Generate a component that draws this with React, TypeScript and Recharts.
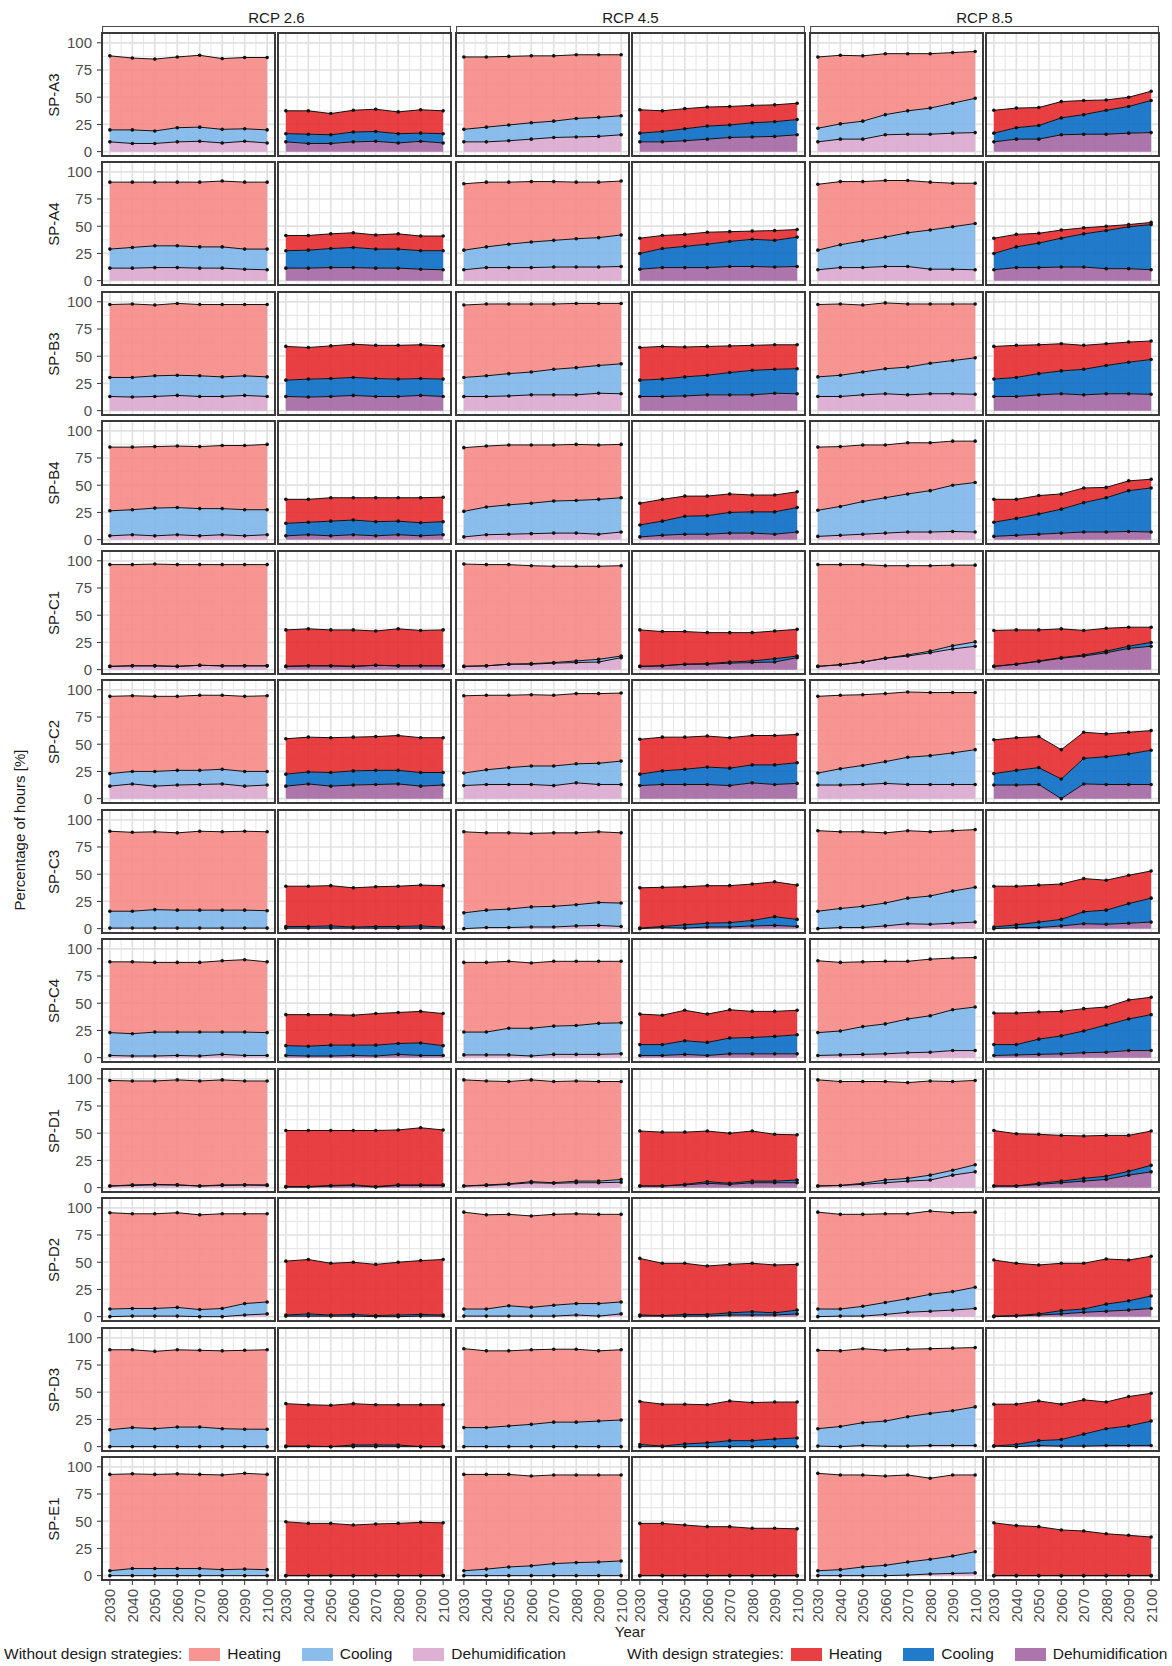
import React from "react";
import { ComposedChart, Area, Line, XAxis, YAxis, CartesianGrid } from "recharts";

const YEARS = [2030, 2040, 2050, 2060, 2070, 2080, 2090, 2100];
const SITES = ["SP-A3", "SP-A4", "SP-B3", "SP-B4", "SP-C1", "SP-C2", "SP-C3", "SP-C4", "SP-D1", "SP-D2", "SP-D3", "SP-E1"];
const RCPS = ["RCP 2.6", "RCP 4.5", "RCP 8.5"];
const Y_TICKS = [0, 25, 50, 75, 100];
const GRID_MINOR_Y = [12.5, 37.5, 62.5, 87.5];
const GRID_MINOR_X = [2035, 2045, 2055, 2065, 2075, 2085, 2095];

// Stacked heights (% of hours), cumulative: dehum <= cool <= heat.
// Each array holds 6 panels: 2.6 without, 2.6 with, 4.5 without, 4.5 with, 8.5 without, 8.5 with.
const A3_HEAT = [
  [88, 86, 85, 87, 88.5, 85.5, 86.5, 86.5], [37.5, 37.5, 35, 38, 39, 36.5, 38.5, 37.5],
  [87, 87, 87.5, 88, 88, 89, 89, 89], [38.5, 37.5, 39.5, 41, 41.5, 42.5, 43, 44.5],
  [87, 88.5, 88, 90, 90, 90, 91, 92], [38, 40, 40.5, 46, 47, 47.5, 50, 55.5],
];
const A3_COOL = [
  [20, 20, 19, 22, 22.5, 20.5, 21, 20], [16.5, 16, 15.5, 18, 18.5, 16.5, 17, 16.5],
  [20.5, 22.5, 24.5, 26.5, 28, 30.5, 31.5, 33], [17, 18.5, 21, 23.5, 24.5, 26.5, 27.5, 29.5],
  [21.5, 25.5, 28, 34, 37.5, 40, 44.5, 49], [17, 22, 24, 31, 34, 38, 41.5, 47],
];
const A3_DEHUM = [
  [9, 7.5, 7.5, 9, 9.5, 8, 9.5, 8], [9, 7.5, 7.5, 9, 9.5, 8, 9.5, 8],
  [9, 9, 10, 11.5, 13, 13.5, 14, 15.5], [9, 9, 10, 11.5, 13, 13.5, 14, 15.5],
  [9, 11.5, 11.5, 15.5, 16, 16, 17, 17.5], [9, 11.5, 11.5, 15.5, 16, 16, 17, 17.5],
];

const A4_HEAT = [
  [90.5, 90.5, 90.5, 90.5, 90.5, 91.5, 90.5, 90.5], [41.5, 41.5, 43, 44, 42, 43, 41, 41],
  [89, 90.5, 90.5, 91, 91, 90.5, 90.5, 91.5], [39, 41.5, 42.5, 44.5, 45, 45.5, 46, 47],
  [88.5, 91, 91, 92, 92, 90.5, 89.5, 89.5], [39, 42.5, 43.5, 46.5, 48.5, 50, 51.5, 53.5],
];
const A4_COOL = [
  [29, 30.5, 32, 32, 31, 31, 29, 29], [27.5, 28, 29.5, 30.5, 29, 29, 27.5, 27.5],
  [28, 31, 33.5, 35.5, 37, 38.5, 39.5, 42], [25, 29.5, 31.5, 33.5, 36, 38, 37, 40],
  [28, 33, 36.5, 40, 44, 46.5, 49.5, 52.5], [25, 31, 34.5, 39, 43, 46, 49.5, 51.5],
];
const A4_DEHUM = [
  [11.5, 11.5, 12, 12, 11.5, 11.5, 10.5, 10], [11.5, 11.5, 12, 12, 11.5, 11.5, 10.5, 10],
  [10, 12, 12, 12, 12.5, 12.5, 12.5, 13], [10.5, 12, 12, 12, 13, 13, 12.5, 13],
  [10, 12, 12, 13, 13, 10.5, 10.5, 10], [10, 12, 12, 12.5, 12.5, 11, 11, 10],
];

const B3_HEAT = [
  [97.5, 98, 97, 98.5, 97.5, 97.5, 97.5, 97.5], [59, 58, 59.5, 61, 60, 60, 60.5, 59.5],
  [97, 98, 98, 98, 98, 98.5, 98.5, 98.5], [58, 59, 58.5, 59, 59.5, 60, 60.5, 60.5],
  [97.5, 98, 97, 99, 98, 98, 98, 98], [59, 60, 60.5, 61.5, 60, 61.5, 63, 64],
];
const B3_COOL = [
  [30.5, 30.5, 32, 32.5, 32, 31, 32, 31], [28, 29, 29.5, 30.5, 29.5, 29, 29.5, 29],
  [30.5, 32, 34, 35.5, 38, 39.5, 41.5, 43], [28, 29, 31, 32.5, 35, 37, 38, 38.5],
  [31, 32.5, 35.5, 38.5, 40, 43.5, 46, 48.5], [29, 30.5, 34, 36.5, 38, 41.5, 44.5, 47],
];
const B3_DEHUM = [
  [13, 12.5, 13, 14, 13, 13, 14, 13], [13, 12.5, 13, 14, 13, 13, 14, 13],
  [13, 13, 13.5, 14.5, 14.5, 14.5, 16, 15.5], [13, 13, 13.5, 14.5, 14.5, 14.5, 16, 15.5],
  [13, 13, 14.5, 15.5, 14.5, 15.5, 15.5, 15], [13, 13, 14.5, 15.5, 14.5, 15.5, 15.5, 15],
];

const B4_HEAT = [
  [85, 85, 85.5, 86, 85.5, 86.5, 86.5, 87.5], [37, 37, 38.5, 38.5, 38.5, 38.5, 38.5, 39],
  [84.5, 86, 87, 87, 87, 87.5, 87, 87.5], [33.5, 37, 40, 40, 42, 41, 41, 44],
  [85, 85.5, 87, 87, 89, 89, 90.5, 90.5], [37, 37, 40.5, 42, 47.5, 48, 54, 55.5],
];
const B4_COOL = [
  [26.5, 27.5, 29, 29.5, 28.5, 28.5, 27.5, 27.5], [15, 16, 17, 18, 16.5, 17, 15.5, 16.5],
  [26, 30, 32, 33.5, 35.5, 36, 37, 38.5], [13.5, 17, 21.5, 22, 25, 25.5, 25.5, 29.5],
  [27, 30.5, 35, 38.5, 42, 45, 50, 52.5], [16, 19.5, 23.5, 28, 34, 38.5, 45, 47.5],
];
const B4_DEHUM = [
  [3.5, 4.5, 3.5, 4.5, 3.5, 4.5, 3.5, 4.5], [3.5, 4.5, 3.5, 4.5, 3.5, 4.5, 3.5, 4.5],
  [2.5, 4.5, 5, 5.5, 6, 6, 5, 7], [2.5, 4, 5, 5, 6, 6, 5, 7],
  [3, 4, 5, 6, 7, 7, 7.5, 7], [3, 4, 5, 6, 7, 7, 7.5, 7],
];

const C1_HEAT = [
  [96.5, 96.5, 97, 96.5, 96.5, 96.5, 96.5, 96.5], [36.5, 37.5, 36.5, 36.5, 35.5, 37.5, 36, 36.5],
  [97, 96.5, 96.5, 95.5, 95, 95, 95, 95.5], [36.5, 35, 35, 34, 34, 34, 35.5, 37],
  [96.5, 96.5, 96.5, 95.5, 95.5, 95.5, 96, 96], [36, 36.5, 36.5, 37.5, 36, 38, 39, 39],
];
const C1_COOL = [
  [3, 3.5, 3.5, 3, 4, 3.5, 3.5, 3.5], [3, 3.5, 3.5, 3, 4, 3.5, 3.5, 3.5],
  [3, 3.5, 5, 5.5, 6.5, 8, 9.5, 12.5], [3, 3.5, 5, 5.5, 7, 8, 10, 12.5],
  [3, 4.5, 7, 10.5, 13.5, 17, 22, 25.5], [3, 5, 8, 11, 13.5, 17, 21.5, 25],
];
const C1_DEHUM = [
  [3, 3.5, 3.5, 3, 4, 3.5, 3.5, 3.5], [3, 3.5, 3.5, 3, 4, 3.5, 3.5, 3.5],
  [3, 3.5, 5, 5, 6, 6.5, 7, 11], [3, 3.5, 5, 5, 6, 6.5, 7, 11],
  [3, 4.5, 7, 10.5, 12.5, 15.5, 19, 21.5], [3, 5, 7.5, 10.5, 12.5, 15.5, 19.5, 21.5],
];

const C2_HEAT = [
  [94, 94.5, 94, 94, 95, 95, 94, 94.5], [55, 56.5, 56, 56.5, 57, 58, 56, 56],
  [94.5, 95, 95, 95.5, 95, 96.5, 96.5, 97], [54.5, 56.5, 56.5, 57.5, 56, 58, 58, 59],
  [94, 95, 95.5, 96.5, 98, 97.5, 97.5, 97.5], [54, 56, 57, 45, 61, 59.5, 61, 62.5],
];
const C2_COOL = [
  [23, 25, 25, 26, 26, 27, 25, 25], [22.5, 24.5, 24, 25.5, 26, 26, 24, 24],
  [23.5, 26.5, 28.5, 30, 30, 32, 32.5, 34.5], [22.5, 25.5, 27, 29, 28, 31, 31, 33],
  [23.5, 27.5, 30.5, 34, 38, 39.5, 42, 45], [23, 26, 28.5, 18, 37, 38.5, 41, 44.5],
];
const C2_DEHUM = [
  [11.5, 13.5, 11.5, 12.5, 13, 13.5, 11.5, 12.5], [11.5, 13.5, 11.5, 12.5, 13, 13.5, 11.5, 12.5],
  [12, 13, 13, 13, 12, 14.5, 13, 13], [12, 13, 13, 13, 12, 14.5, 13, 14],
  [12.5, 12.5, 13, 14, 13, 13, 13, 13], [12.5, 12.5, 13, 0, 13.5, 13, 13, 13],
];

const C3_HEAT = [
  [89.5, 88.5, 89, 88, 89.5, 89, 89.5, 89], [39, 39, 39.5, 37.5, 38.5, 39, 40, 39.5],
  [89, 88, 88, 87.5, 88, 88, 89, 88], [37.5, 38, 38.5, 39.5, 39.5, 41, 43, 40],
  [90, 89, 89, 88, 90, 89, 90, 91], [39, 39, 40, 41, 46, 44.5, 49, 53],
];
const C3_COOL = [
  [16, 16, 17.5, 17, 17, 17, 17, 16.5], [2, 2, 2.5, 1.5, 2, 2, 2.5, 1.5],
  [14.5, 17, 18, 20, 20.5, 22, 24, 23.5], [0.5, 2, 3.5, 5, 5.5, 7.5, 11, 8.5],
  [16, 18.5, 20.5, 23.5, 28, 30, 34.5, 38], [1.5, 3.5, 6, 8.5, 15.5, 17, 23, 28],
];
const C3_DEHUM = [
  [0.5, 0.5, 0.5, 0.5, 0.5, 0.5, 0.5, 0.5], [0.5, 0.5, 0.5, 0.5, 0.5, 0.5, 0.5, 0.5],
  [0, 1, 1, 1.5, 1.5, 2.5, 3, 2], [0, 1, 0.5, 1.5, 1.5, 2.5, 3, 2],
  [0, 1, 1, 2.5, 4.5, 4, 5, 6], [0, 1, 1, 2.5, 4.5, 4, 5, 6],
];

const C4_HEAT = [
  [88, 88, 87.5, 87.5, 87.5, 89, 90, 88], [39.5, 39.5, 39.5, 39, 40.5, 41.5, 42.5, 40.5],
  [87.5, 87.5, 88.5, 87, 88.5, 88.5, 88.5, 88.5], [40, 39, 43.5, 40, 44, 42.5, 42.5, 43.5],
  [89, 87.5, 88, 88.5, 88.5, 90.5, 91.5, 92], [41, 41, 42, 42.5, 45, 46.5, 53, 55.5],
];
const C4_COOL = [
  [23, 22, 23.5, 23.5, 23.5, 23.5, 23.5, 23], [11, 10.5, 11.5, 11.5, 11.5, 13, 13.5, 11],
  [23.5, 23.5, 27, 27, 29, 29.5, 31.5, 32], [12, 12, 15.5, 14, 18, 18.5, 19.5, 21],
  [23, 24.5, 28.5, 31, 35.5, 38.5, 44, 46.5], [12, 12, 17, 20, 24.5, 30, 35.5, 39.5],
];
const C4_DEHUM = [
  [2, 1.5, 1.5, 2, 1.5, 3, 2, 2], [2, 1.5, 1.5, 2, 1.5, 3, 2, 2],
  [2.5, 2.5, 2.5, 1.5, 3, 3, 3, 3.5], [2, 2, 3, 2, 3.5, 3.5, 3.5, 3.5],
  [2, 2.5, 3, 3.5, 4.5, 5, 6.5, 6.5], [2, 2.5, 3, 3.5, 4.5, 5, 6.5, 6.5],
];

const D1_HEAT = [
  [98.5, 98, 98, 99, 98, 99, 98, 98], [52.5, 52.5, 52.5, 52.5, 52.5, 53, 55, 53],
  [99, 98, 97.5, 99, 97.5, 98, 97.5, 97.5], [52, 51, 51, 52, 50, 52, 49, 48.5],
  [99, 97.5, 97.5, 97.5, 96.5, 98, 97.5, 98.5], [52.5, 49.5, 49, 48, 47.5, 48, 48, 52],
];
const D1_COOL = [
  [1.5, 2.5, 3, 2.5, 1.5, 2.5, 2.5, 2.5], [1, 1, 2, 2.5, 1, 2.5, 2.5, 2.5],
  [1.5, 2.5, 3.5, 5.5, 4.5, 6, 6, 7.5], [1.5, 1.5, 3, 5.5, 4, 6, 6, 7],
  [1.5, 2, 4, 7, 8.5, 11.5, 16, 21], [1.5, 1.5, 4, 6, 8.5, 10.5, 15, 20.5],
];
const D1_DEHUM = [
  [1.5, 2, 2.5, 2.5, 1.5, 2, 2.5, 2], [0.5, 0.5, 1.5, 2, 0.5, 2, 2, 2],
  [1.5, 2, 3, 4.5, 4, 4.5, 4.5, 5], [1.5, 1.5, 2.5, 4, 3, 4.5, 4.5, 4.5],
  [1.5, 2, 3, 4.5, 6, 7, 11.5, 14.5], [1.5, 1.5, 3, 4.5, 6, 7.5, 11.5, 14.5],
];

const D2_HEAT = [
  [95.5, 94.5, 94.5, 95.5, 93.5, 94.5, 94.5, 94.5], [51, 52.5, 49, 50, 48, 50, 51.5, 52.5],
  [96, 93.5, 94, 92.5, 94, 94.5, 94, 94], [53.5, 49, 49, 46.5, 48, 49, 47.5, 48],
  [96, 94, 94, 94.5, 94.5, 97, 95.5, 96], [52, 49, 47.5, 49, 49, 53, 52, 55.5],
];
const D2_COOL = [
  [7, 7.5, 7.5, 8.5, 6.5, 7.5, 12, 13.5], [1.5, 2.5, 1.5, 2, 1, 1.5, 2, 1.5],
  [7, 7, 10, 8.5, 10.5, 12, 12, 13.5], [1.5, 1, 2, 2, 3.5, 4.5, 3.5, 6],
  [7, 7, 9.5, 13, 16.5, 20.5, 23, 27], [0.5, 1, 2.5, 5.5, 7, 11.5, 14.5, 19],
];
const D2_DEHUM = [
  [0, 0.5, 0.5, 0.5, 0, 0, 1.5, 2.5], [0.5, 0.5, 0.5, 0.5, 0, 0, 0.5, 0.5],
  [0.5, 0.5, 0.5, 0.5, 0.5, 1.5, 0.5, 2.5], [0.5, 0.5, 0.5, 0.5, 1.5, 1.5, 1.5, 2.5],
  [0, 0.5, 0.5, 2, 4, 5, 6, 7.5], [0, 0.5, 1.5, 2.5, 4, 5, 6, 7.5],
];

const D3_HEAT = [
  [89, 89, 87.5, 89, 88.5, 88, 88.5, 89], [39.5, 38.5, 38, 39.5, 38.5, 38.5, 38.5, 38.5],
  [90, 88, 88, 89, 89.5, 89.5, 88, 89], [41.5, 39, 39, 38.5, 42, 40.5, 41, 41],
  [88.5, 88, 90, 88.5, 89.5, 90, 90.5, 91], [39, 39, 42, 39, 43, 41, 46, 49],
];
const D3_COOL = [
  [15.5, 17.5, 16.5, 18, 18, 16.5, 16, 16], [0.5, 0.5, 0, 1.5, 1.5, 1.5, 0, 0],
  [17.5, 17.5, 19, 20.5, 22.5, 22.5, 23.5, 24.5], [2, 0.5, 2.5, 3.5, 5.5, 5.5, 7, 8],
  [16.5, 18.5, 22, 23.5, 27.5, 30.5, 33, 36.5], [0.5, 2, 5.5, 6.5, 11.5, 16.5, 19, 23.5],
];
const D3_DEHUM = [
  [0, 0, 0, 0, 0, 0, 0, 0], [0, 0, 0, 0, 0, 0, 0, 0],
  [0, 0, 0, 0, 0, 0, 0, 0], [0, 0, 0, 0, 0, 0, 0, 0],
  [0.5, 0, 1, 0.5, 0.5, 1, 1, 1], [0.5, 0, 1, 0.5, 0.5, 1, 1, 1],
];

const E1_HEAT = [
  [93, 93.5, 93, 93.5, 93, 92.5, 94, 93], [49.5, 48, 48, 46.5, 47.5, 48, 49, 48.5],
  [93, 93, 93, 91.5, 92.5, 92.5, 92.5, 92.5], [48, 48, 46.5, 45, 45, 43.5, 43.5, 43],
  [94, 92.5, 92.5, 91.5, 92.5, 89.5, 92.5, 92.5], [48.5, 46, 45, 42, 41, 38.5, 37, 35.5],
];
const E1_COOL = [
  [4.5, 6.5, 6.5, 6.5, 6.5, 5.5, 6, 5.5], [0, 0, 0, 0, 0, 0, 0, 0],
  [4.5, 6, 8, 9, 11, 12, 12.5, 13.5], [0, 0, 0, 0, 0, 0, 0, 0],
  [4.5, 5.5, 8, 9.5, 12.5, 15, 18, 22], [0, 0, 0, 0, 0, 0, 0, 0],
];
const E1_DEHUM = [
  [0, 0, 0, 0, 0, 0, 0, 0], [0, 0, 0, 0, 0, 0, 0, 0],
  [0, 0, 0, 0, 0, 0, 0, 0], [0, 0, 0, 0, 0, 0, 0, 0],
  [0, 0, 0, 0, 0.5, 1.5, 2, 2.5], [0, 0, 0, 0, 0, 0, 0, 0],
];

const SITE_DATA = [
  [A3_HEAT, A3_COOL, A3_DEHUM], [A4_HEAT, A4_COOL, A4_DEHUM],
  [B3_HEAT, B3_COOL, B3_DEHUM], [B4_HEAT, B4_COOL, B4_DEHUM],
  [C1_HEAT, C1_COOL, C1_DEHUM], [C2_HEAT, C2_COOL, C2_DEHUM],
  [C3_HEAT, C3_COOL, C3_DEHUM], [C4_HEAT, C4_COOL, C4_DEHUM],
  [D1_HEAT, D1_COOL, D1_DEHUM], [D2_HEAT, D2_COOL, D2_DEHUM],
  [D3_HEAT, D3_COOL, D3_DEHUM], [E1_HEAT, E1_COOL, E1_DEHUM],
];

const PLAIN = { heat: "#F68987", cool: "#7EB6EA", dehum: "#DAA7CF" };
const DESIGN = { heat: "#E52B2D", cool: "#0A6DC4", dehum: "#A367A3" };
const FILL_OPACITY = 0.9;

const FONT = '"Liberation Sans", Arial, Helvetica, sans-serif';
const PANEL_W = 173;
const PANEL_H = 123;
const COL_LEFT = [102, 278, 456, 632, 810, 986];
const Y_AXIS_W = 40;
const X_AXIS_H = 50;
const PAD = 10; // extra room above/below so edge tick labels are not clipped
const X_DOMAIN = [2026.5, 2103.5];
const Y_DOMAIN = [-4, 109];
const rowTop = (r: number) => Math.round(33 + r * 129.45);

function YearTick(props: any) {
  const { x, y, payload } = props;
  return (
    <text x={x} y={y} transform={`rotate(-90 ${x} ${y})`} textAnchor="end" dominantBaseline="central"
      fill="#4D4D4D" fontSize={15}>
      {payload.value}
    </text>
  );
}

function Panel({ row, col }: { row: number; col: number }) {
  const [heat, cool, dehum] = SITE_DATA[row];
  const data = YEARS.map((year, i) => ({
    year,
    heat: heat[col][i],
    cool: cool[col][i],
    dehum: dehum[col][i],
  }));
  const pal = col % 2 ? DESIGN : PLAIN;
  const showY = col === 0;
  const showX = row === SITES.length - 1;
  const padTop = showY ? PAD : 0;
  const padBottom = showY && !showX ? PAD : 0;
  const width = PANEL_W + (showY ? Y_AXIS_W : 0);
  const height = PANEL_H + padTop + padBottom + (showX ? X_AXIS_H : 0);
  const top = rowTop(row);
  const lineProps = {
    type: "linear" as const,
    stroke: "#111",
    strokeWidth: 1,
    dot: { r: 1.8, fill: "#111", stroke: "none" },
    activeDot: false,
    isAnimationActive: false,
  };

  return (
    <>
      <div style={{ position: "absolute", left: COL_LEFT[col] - (showY ? Y_AXIS_W : 0), top: top - padTop }}>
        <ComposedChart width={width} height={height} data={data}
          margin={{ top: padTop, right: 0, bottom: padBottom, left: 0 }}>
          <CartesianGrid horizontalValues={GRID_MINOR_Y} verticalValues={GRID_MINOR_X} stroke="#E8E8E8" strokeWidth={1.1} />
          <CartesianGrid horizontalValues={Y_TICKS} verticalValues={YEARS} stroke="#E2E2E2" strokeWidth={1.7} />
          <XAxis type="number" dataKey="year" domain={X_DOMAIN} ticks={YEARS} interval={0} hide={!showX}
            height={X_AXIS_H} axisLine={false} tickSize={5} tickMargin={4} tickLine={{ stroke: "#333" }}
            tick={<YearTick />} allowDataOverflow />
          <YAxis type="number" domain={Y_DOMAIN} ticks={Y_TICKS} interval={0} hide={!showY} width={Y_AXIS_W}
            axisLine={false} tickSize={5} tickMargin={5} tickLine={{ stroke: "#333" }}
            tick={{ fill: "#4D4D4D", fontSize: 15 }} allowDataOverflow />
          <Area type="linear" dataKey="dehum" baseValue={0} stroke="none" fill={pal.dehum}
            fillOpacity={FILL_OPACITY} dot={false} activeDot={false} isAnimationActive={false} />
          <Area type="linear" dataKey={(d: any) => [d.dehum, d.cool]} stroke="none" fill={pal.cool}
            fillOpacity={FILL_OPACITY} dot={false} activeDot={false} isAnimationActive={false} />
          <Area type="linear" dataKey={(d: any) => [d.cool, d.heat]} stroke="none" fill={pal.heat}
            fillOpacity={FILL_OPACITY} dot={false} activeDot={false} isAnimationActive={false} />
          <Line dataKey="dehum" {...lineProps} />
          <Line dataKey="cool" {...lineProps} />
          <Line dataKey="heat" {...lineProps} />
        </ComposedChart>
      </div>
      <div
        style={{
          position: "absolute",
          left: COL_LEFT[col] - 1,
          top: top - 1,
          width: PANEL_W + 2,
          height: PANEL_H + 2,
          border: "2px solid #3a3a3a",
          boxSizing: "border-box",
          pointerEvents: "none",
        }}
      />
    </>
  );
}

function StripHeader({ group }: { group: number }) {
  const left = COL_LEFT[group * 2];
  const right = COL_LEFT[group * 2 + 1] + PANEL_W;
  const w = right - left;
  return (
    <>
      <div style={{ position: "absolute", left, top: 9, width: w, textAlign: "center", fontSize: 15, color: "#1a1a1a" }}>
        {RCPS[group]}
      </div>
      <svg style={{ position: "absolute", left, top: 25 }} width={w} height={8}>
        <path d={`M0.5 7 V1.5 H${w - 0.5} V7`} fill="none" stroke="#4d4d4d" strokeWidth={1.2} />
      </svg>
    </>
  );
}

function LegendRow({ title, pal, left }: { title: string; pal: typeof PLAIN; left: number }) {
  const items: [string, string][] = [["Heating", pal.heat], ["Cooling", pal.cool], ["Dehumidification", pal.dehum]];
  return (
    <div style={{ position: "absolute", left, top: 1645, display: "flex", alignItems: "center", fontSize: 15.5, color: "#1a1a1a", whiteSpace: "nowrap" }}>
      <span style={{ marginRight: 7 }}>{title}</span>
      {items.map(([name, color], i) => (
        <React.Fragment key={name}>
          <span style={{ width: 31, height: 13, background: color, opacity: FILL_OPACITY, marginLeft: i ? 21 : 0, marginRight: 7 }} />
          <span>{name}</span>
        </React.Fragment>
      ))}
    </div>
  );
}

export default function App() {
  return (
    <div style={{ position: "absolute", left: 0, top: 0, width: 1172, height: 1666, background: "#fff", fontFamily: FONT, overflow: "hidden" }}>
      {RCPS.map((_, g) => <StripHeader key={g} group={g} />)}
      {SITES.map((site, r) => (
        <div key={site} style={{
          position: "absolute", left: 53, top: rowTop(r) + PANEL_H / 2,
          transform: "translate(-50%, -50%) rotate(-90deg)", fontSize: 15, color: "#1a1a1a", whiteSpace: "nowrap",
        }}>
          {site}
        </div>
      ))}
      {SITES.map((site, r) => COL_LEFT.map((_, c) => <Panel key={`${site}-${c}`} row={r} col={c} />))}
      <div style={{
        position: "absolute", left: 19, top: 830, transform: "translate(-50%, -50%) rotate(-90deg)",
        fontSize: 15, color: "#1a1a1a", whiteSpace: "nowrap",
      }}>
        Percentage of hours [%]
      </div>
      <div style={{ position: "absolute", left: 630, top: 1631, transform: "translate(-50%, -50%)", fontSize: 15, color: "#1a1a1a" }}>
        Year
      </div>
      <LegendRow title="Without design strategies:" pal={PLAIN} left={4} />
      <LegendRow title="With design strategies:" pal={DESIGN} left={627} />
    </div>
  );
}
